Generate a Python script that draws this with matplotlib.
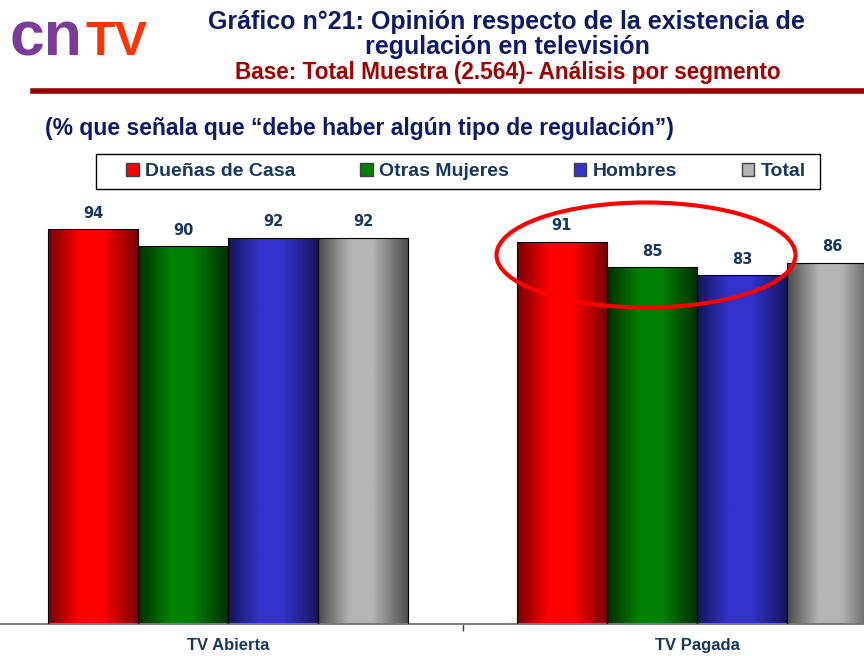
import numpy as np
import matplotlib
matplotlib.use('Agg')
import matplotlib.pyplot as plt
from matplotlib.colors import LinearSegmentedColormap
from matplotlib.patches import Patch, Ellipse, Rectangle
from matplotlib.lines import Line2D

categories = ['TV Abierta', 'TV Pagada']
series = ['Dueñas de Casa', 'Otras Mujeres', 'Hombres', 'Total']
values = [
    [94, 91],   # Dueñas de Casa
    [90, 85],   # Otras Mujeres
    [92, 83],   # Hombres
    [92, 86],   # Total
]

# (dark edge, bright centre)
shades = [('#760000', '#ff0000'),
          ('#002e00', '#008000'),
          ('#15155a', '#3333cc'),
          ('#4a4a4a', '#b4b4b4')]

navy = '#17375e'
title_navy = '#0d1b66'

fig = plt.figure(figsize=(8.64, 6.56), dpi=100)
ax = fig.add_axes([-6.5 / 864, 32 / 656, 938 / 864, 420 / 656])

x = np.arange(len(categories))
w = 0.192
grad = np.linspace(0, 1, 256).reshape(1, -1)

for i, s in enumerate(series):
    off = (i - 1.5) * w
    bars = ax.bar(x + off, values[i], w, facecolor='none', edgecolor='black',
                  linewidth=0.8, zorder=3)
    dark, bright = shades[i]
    cmap = LinearSegmentedColormap.from_list(
        's%d' % i, [(0, dark), (0.35, bright), (0.6, bright), (1, dark)])
    for b, v in zip(bars, values[i]):
        x0 = b.get_x()
        im = ax.imshow(grad, cmap=cmap, aspect='auto', zorder=2,
                       extent=[x0, x0 + b.get_width(), 0, b.get_height()])
        im.set_clip_path(b)
        ax.annotate(str(v), (b.get_x() + b.get_width() / 2, v),
                    xytext=(0, 6), textcoords='offset points', ha='center',
                    va='bottom', fontsize=10.5, fontweight='bold', color=navy,
                    family='DejaVu Sans')

ax.set_xlim(-0.5, 1.5)
ax.set_ylim(0, 100)
ax.set_yticks([])
for sp in ['top', 'right', 'left']:
    ax.spines[sp].set_visible(False)
ax.spines['bottom'].set_color('#808080')
ax.spines['bottom'].set_linewidth(1.5)
ax.set_xticks([0.5])
ax.set_xticklabels([''])
ax.tick_params(axis='x', which='major', length=5, color='#404040', width=1)
ax.set_xticks(x, minor=True)
ax.set_xticklabels(categories, minor=True, fontsize=12, fontweight='bold',
                   color=navy, family='Liberation Sans')
ax.tick_params(axis='x', which='minor', length=0, pad=10)

# legend: frame drawn by hand, entries by legend()
fig.add_artist(Rectangle((96 / 864, 1 - 189 / 656), 724 / 864, 35 / 656,
                         fill=False, edgecolor='black', linewidth=1,
                         transform=fig.transFigure))
handles = [Patch(facecolor=shades[i][1], edgecolor='#404040', linewidth=1)
           for i in range(len(series))]
fig.legend(handles, series, ncol=4, loc='center',
           bbox_to_anchor=(466 / 864, 1 - 171.5 / 656),
           frameon=False, handlelength=0.65, handleheight=0.65,
           handletextpad=0.35, columnspacing=3.3, borderaxespad=0,
           prop={'family': 'Liberation Sans', 'weight': 'bold', 'size': 14},
           labelcolor=navy)

# logo
fig.text(10 / 864, 1 - 55 / 656, 'cn', fontsize=45, fontweight='bold',
         color='#7b3b98', family='Liberation Sans', va='baseline')
fig.text(86 / 864, 1 - 55 / 656, 'TV', fontsize=35, fontweight='bold',
         color='#ff3300', family='Liberation Sans', va='baseline')

# titles
fig.text(506 / 864, 1 - 22 / 656, 'Gráfico n°21: Opinión respecto de la existencia de',
         ha='center', va='center', fontsize=18, fontweight='bold',
         color=title_navy, family='Liberation Sans')
fig.text(507 / 864, 1 - 47 / 656, 'regulación en televisión', ha='center',
         va='center', fontsize=18, fontweight='bold', color=title_navy,
         family='Liberation Sans')
fig.text(508 / 864, 1 - 73 / 656, 'Base: Total Muestra (2.564)- Análisis por segmento',
         ha='center', va='center', fontsize=16.3, fontweight='bold',
         color='#a00000', family='Liberation Sans')
fig.add_artist(Line2D([33 / 864, 1], [1 - 91 / 656] * 2, color='#990000',
                      linewidth=4, transform=fig.transFigure))

fig.text(45 / 864, 1 - 128 / 656,
         '(% que señala que “debe haber algún tipo de regulación”)',
         ha='left', va='center', fontsize=16.5, fontweight='bold',
         color=title_navy, family='Liberation Sans')

# highlight
fig.add_artist(Ellipse((646 / 864, 1 - 255 / 656), 299 / 864, 105 / 656,
                       fill=False, edgecolor='#ff0000', linewidth=3,
                       transform=fig.transFigure, zorder=10))

fig.savefig('out.png', dpi=100)
